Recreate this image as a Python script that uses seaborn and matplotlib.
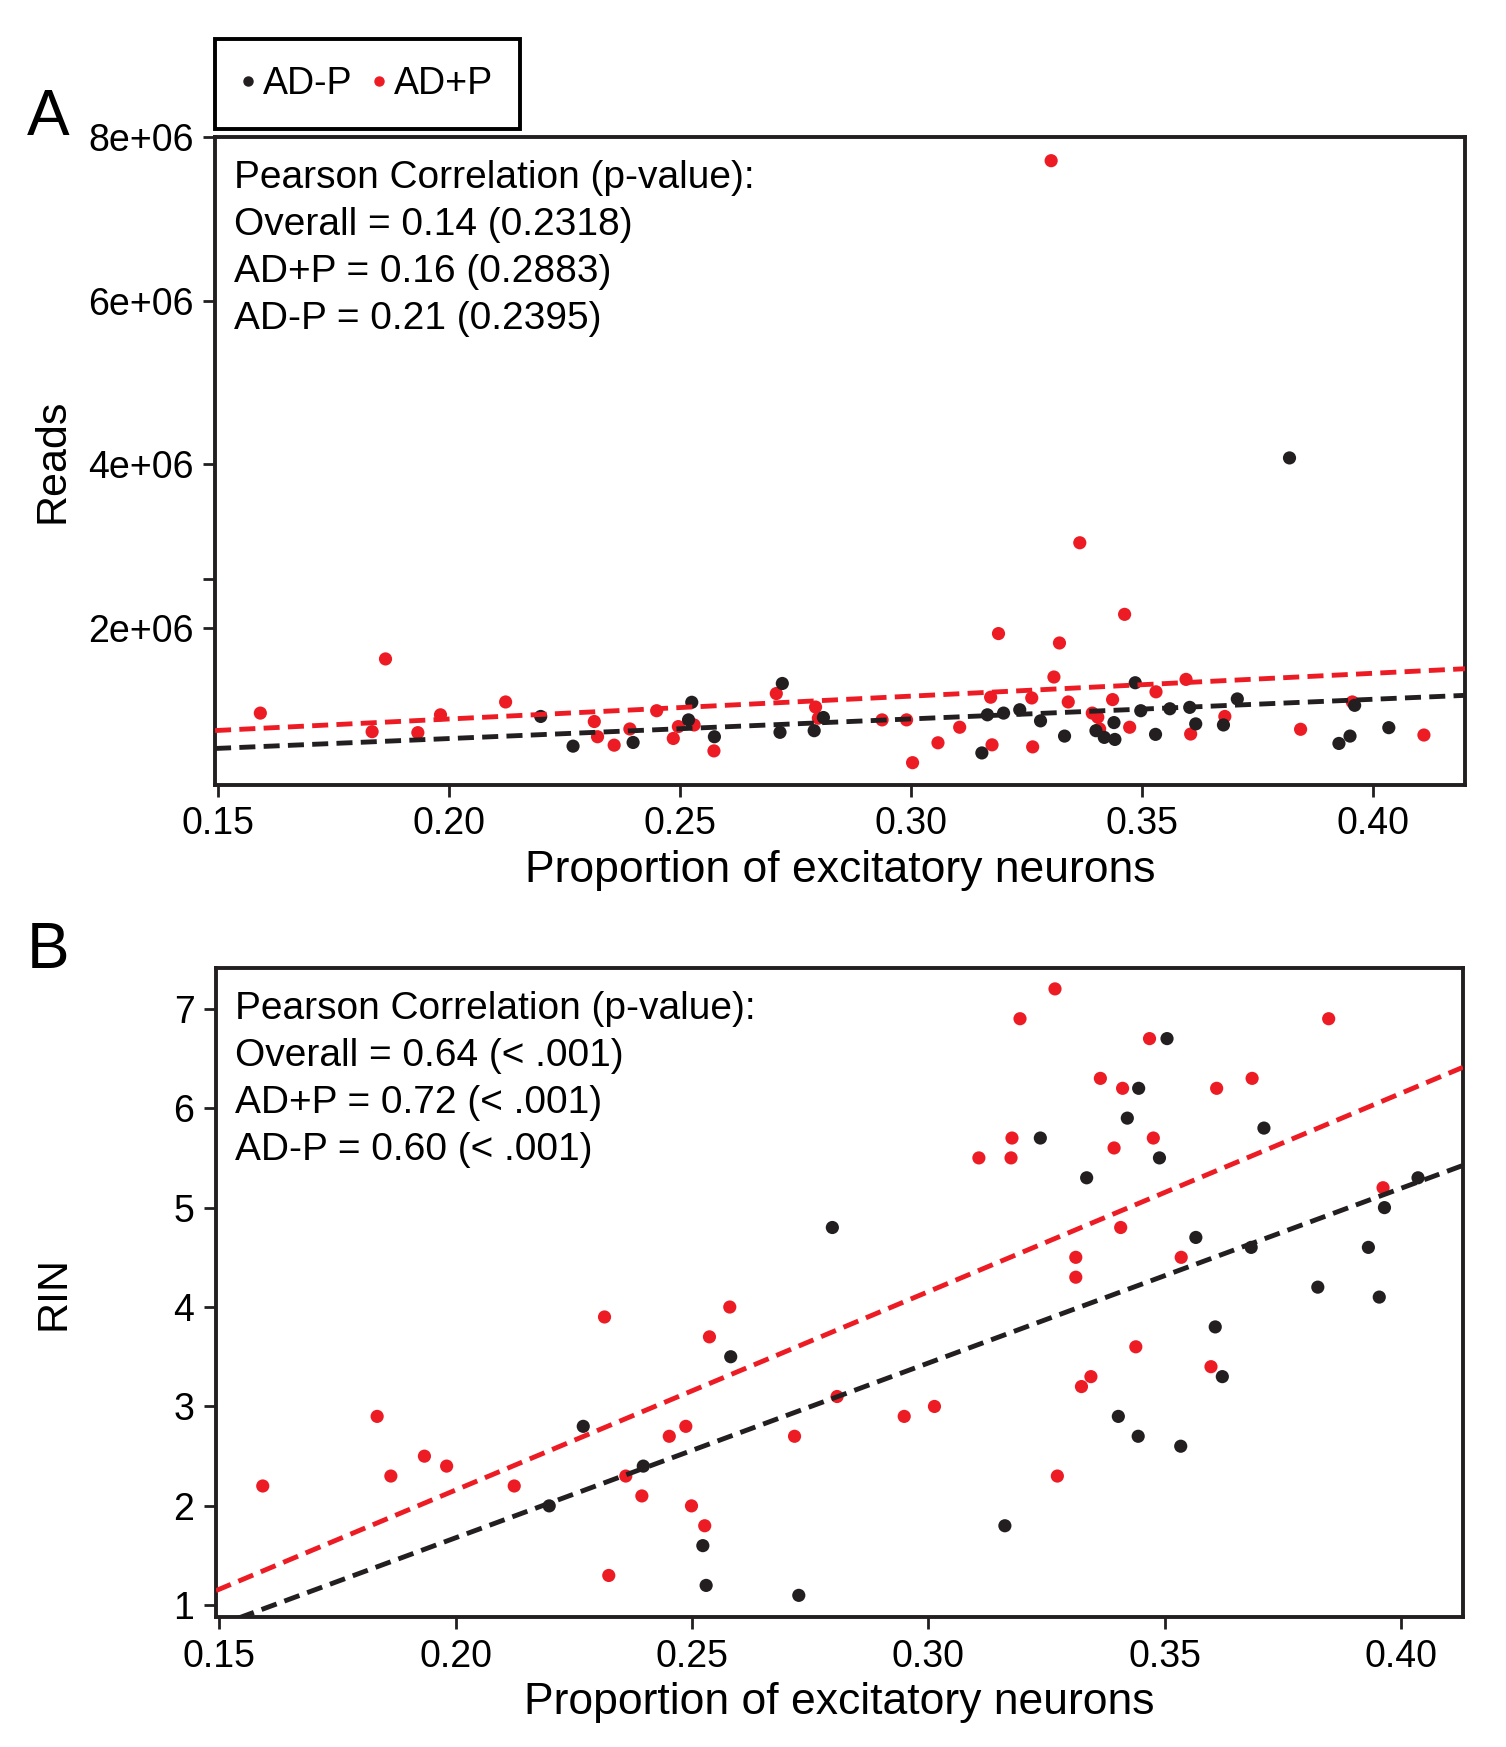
import numpy as np
import pandas as pd
import matplotlib
matplotlib.use("Agg")
import matplotlib.pyplot as plt
from matplotlib.lines import Line2D
from matplotlib.ticker import FixedLocator, FormatStrFormatter
import seaborn as sns

# ---- data ------------------------------------------------------------------
# Panel A: reads vs proportion of excitatory neurons
prop_a_pos = [0.1592, 0.1863, 0.1834, 0.1933, 0.1982, 0.2123, 0.2315, 0.2322,
              0.2358, 0.2392, 0.2450, 0.2486, 0.2497, 0.2531, 0.2574, 0.2709,
              0.2794, 0.2800, 0.2938, 0.2991, 0.3004, 0.3059, 0.3106, 0.3173,
              0.3176, 0.3190, 0.3262, 0.3264, 0.3304, 0.3310, 0.3322, 0.3341,
              0.3366, 0.3393, 0.3405, 0.3409, 0.3437, 0.3463, 0.3474, 0.3531,
              0.3596, 0.3606, 0.3680, 0.3844, 0.3956, 0.4111]
reads_a_pos = [958000, 1620000, 731000, 719000, 937000, 1094000, 855000, 669000,
               566000, 764000, 987000, 648000, 793000, 813000, 496000, 1197000,
               1032000, 896000, 875000, 875000, 352000, 595000, 785000, 1152000,
               570000, 1930000, 1143000, 545000, 7710000, 1399000, 1815000, 1094000,
               3040000, 958000, 908000, 764000, 1123000, 2165000, 785000, 1218000,
               1370000, 702000, 917000, 760000, 1094000, 690000]

prop_a_neg = [0.2199, 0.2269, 0.2399, 0.2526, 0.2519, 0.2575, 0.2722, 0.2717,
              0.2791, 0.2811, 0.3154, 0.3166, 0.3201, 0.3236, 0.3281, 0.3333,
              0.3401, 0.3419, 0.3440, 0.3442, 0.3486, 0.3498, 0.3530, 0.3561,
              0.3604, 0.3617, 0.3677, 0.3707, 0.3820, 0.3927, 0.3951, 0.3961,
              0.4035]
reads_a_neg = [917000, 554000, 599000, 1090000, 875000, 669000, 1320000, 723000,
               743000, 904000, 471000, 937000, 958000, 999000, 863000, 677000,
               743000, 661000, 842000, 636000, 1329000, 987000, 698000, 1011000,
               1028000, 826000, 813000, 1131000, 4077000, 587000, 677000, 1053000,
               780000]

# Panel B: RIN vs proportion of excitatory neurons
prop_b_pos = [0.1592, 0.1834, 0.1863, 0.1934, 0.1981, 0.2124, 0.2315, 0.2324,
              0.2360, 0.2394, 0.2452, 0.2487, 0.2499, 0.2527, 0.2537, 0.2580,
              0.2717, 0.2807, 0.2949, 0.3013, 0.3107, 0.3177, 0.3175, 0.3194,
              0.3268, 0.3273, 0.3312, 0.3312, 0.3324, 0.3344, 0.3364, 0.3393,
              0.3407, 0.3411, 0.3439, 0.3468, 0.3476, 0.3535, 0.3598, 0.3610,
              0.3685, 0.3847, 0.3962]
rin_b_pos = [2.2, 2.9, 2.3, 2.5, 2.4, 2.2, 3.9, 1.3,
             2.3, 2.1, 2.7, 2.8, 2.0, 1.8, 3.7, 4.0,
             2.7, 3.1, 2.9, 3.0, 5.5, 5.7, 5.5, 6.9,
             7.2, 2.3, 4.5, 4.3, 3.2, 3.3, 6.3, 5.6,
             4.8, 6.2, 3.6, 6.7, 5.7, 4.5, 3.4, 6.2,
             6.3, 6.9, 5.2]

prop_b_neg = [0.2198, 0.2270, 0.2397, 0.2523, 0.2530, 0.2582, 0.2726, 0.2797,
              0.3162, 0.3237, 0.3335, 0.3402, 0.3421, 0.3445, 0.3444, 0.3489,
              0.3505, 0.3534, 0.3566, 0.3607, 0.3622, 0.3683, 0.3710, 0.3824,
              0.3931, 0.3954, 0.3965, 0.4036]
rin_b_neg = [2.0, 2.8, 2.4, 1.6, 1.2, 3.5, 1.1, 4.8,
             1.8, 5.7, 5.3, 2.9, 5.9, 6.2, 2.7, 5.5,
             6.7, 2.6, 4.7, 3.8, 3.3, 4.6, 5.8, 4.2,
             4.6, 4.1, 5.0, 5.3]

groups = ["AD+P", "AD-P"]
text_a = ["Pearson Correlation (p-value):", "Overall = 0.14 (0.2318)",
          "AD+P = 0.16 (0.2883)", "AD-P = 0.21 (0.2395)"]
text_b = ["Pearson Correlation (p-value):", "Overall = 0.64 (< .001)",
          "AD+P = 0.72 (< .001)", "AD-P = 0.60 (< .001)"]
x_ticks = [0.15, 0.20, 0.25, 0.30, 0.35, 0.40]
reads_ticks = [2e6, 4e6, 6e6, 8e6]
reads_tick_labels = ["2e+06", "4e+06", "6e+06", "8e+06"]
rin_ticks = [1, 2, 3, 4, 5, 6, 7]

# ---- style -------------------------------------------------------------------
RED = "#ED1C24"
BLACK = "#231F20"
palette = {"AD+P": RED, "AD-P": BLACK}

sns.set_theme(style="ticks")
plt.rcParams["font.family"] = ["Liberation Sans", "DejaVu Sans"]
plt.rcParams["axes.edgecolor"] = BLACK
plt.rcParams["axes.labelcolor"] = "black"
plt.rcParams["text.color"] = "black"
plt.rcParams["axes.linewidth"] = 2.8
plt.rcParams["xtick.color"] = BLACK
plt.rcParams["ytick.color"] = BLACK
plt.rcParams["xtick.labelcolor"] = "black"
plt.rcParams["ytick.labelcolor"] = "black"


def make_frame(px, py, gx, gy):
    return pd.DataFrame({
        "prop": list(px) + list(gx),
        "value": list(py) + list(gy),
        "group": ["AD+P"] * len(px) + ["AD-P"] * len(gx),
    })


df_a = make_frame(prop_a_pos, reads_a_pos, prop_a_neg, reads_a_neg)
df_b = make_frame(prop_b_pos, rin_b_pos, prop_b_neg, rin_b_neg)


def draw_panel(ax, df, xlim, ylim, ylabel, lines):
    ax.set_xlim(xlim)
    ax.set_ylim(ylim)
    sns.scatterplot(data=df, x="prop", y="value", hue="group", palette=palette,
                    s=90, linewidth=0, legend=False, ax=ax, zorder=3)
    for g in groups:
        sub = df[df["group"] == g]
        sns.regplot(data=sub, x="prop", y="value", scatter=False, ci=None,
                    truncate=False, color=palette[g], ax=ax,
                    line_kws=dict(linestyle=(0, (3.3, 1.7)), linewidth=3.5,
                                  zorder=4))
    ax.set_xlim(xlim)
    ax.set_ylim(ylim)
    ax.xaxis.set_major_locator(FixedLocator(x_ticks))
    ax.xaxis.set_major_formatter(FormatStrFormatter("%.2f"))
    ax.tick_params(axis="both", which="both", direction="out", length=8.5,
                   width=2, labelsize=27, pad=7)
    ax.set_xlabel("Proportion of excitatory neurons", fontsize=32)
    ax.set_ylabel(ylabel, fontsize=31)
    ax.xaxis.set_label_coords(0.5, -0.10)
    ax.yaxis.set_label_coords(-0.114, 0.5)
    for spine in ax.spines.values():
        spine.set_visible(True)
        spine.set_linewidth(2.8)
    for i, line in enumerate(lines):
        ax.text(0.015, 0.921 - 0.0725 * i, line, transform=ax.transAxes,
                fontsize=28, ha="left", va="baseline", color="black")


fig = plt.figure(figsize=(15.06, 17.47), dpi=100)
ax_a = fig.add_axes([0.1428, 0.5507, 0.830, 0.3709])
ax_b = fig.add_axes([0.1434, 0.0744, 0.828, 0.3715])

draw_panel(ax_a, df_a, (0.1494, 0.420), (0.08e6, 8e6), "Reads", text_a)
ax_a.yaxis.set_major_locator(FixedLocator(reads_ticks))
ax_a.set_yticklabels(reads_tick_labels)
ax_a.yaxis.set_minor_locator(FixedLocator([2.6e6]))

draw_panel(ax_b, df_b, (0.1493, 0.4131), (0.882, 7.41), "RIN", text_b)
ax_b.yaxis.set_major_locator(FixedLocator(rin_ticks))

# panel letters
fig.text(27 / 1506, 1 - 135 / 1747, "A", fontsize=46, ha="left", va="baseline")
fig.text(27 / 1506, 1 - 968 / 1747, "B", fontsize=46, ha="left", va="baseline")

# legend
handles = [Line2D([], [], marker="o", linestyle="", color=BLACK, markersize=6.5),
           Line2D([], [], marker="o", linestyle="", color=RED, markersize=6.5)]
leg = fig.legend(handles, ["AD-P", "AD+P"], ncol=2, loc="upper left",
                 bbox_to_anchor=(215 / 1506, 1 - 39 / 1747), borderaxespad=0,
                 fontsize=27, frameon=True, fancybox=False, framealpha=1,
                 edgecolor="black", handlelength=0.3, handletextpad=0.25,
                 columnspacing=0.55, borderpad=0.72)
leg.get_frame().set_linewidth(2.8)

fig.savefig("out.png", dpi=100)
